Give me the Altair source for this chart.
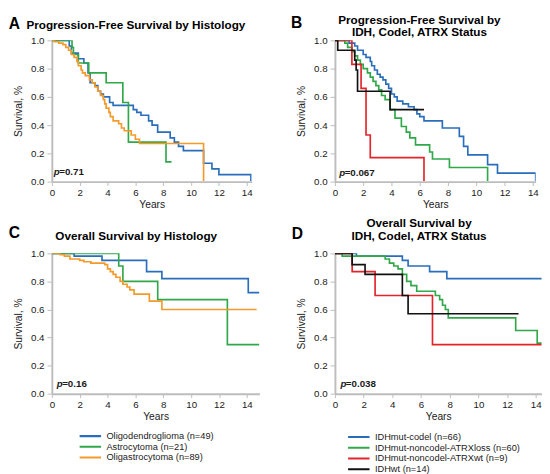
import altair as alt
import pandas as pd

FONT = "Liberation Sans"

# ---------------- data ----------------
hist_names = ["Oligodendroglioma (n=49)", "Astrocytoma (n=21)", "Oligastrocytoma (n=89)"]
hist_colors = ["#2a6ebb", "#30a84a", "#f39a2b"]
mol_names = ["IDHmut-codel (n=66)", "IDHmut-noncodel-ATRXloss (n=60)",
             "IDHmut-noncodel-ATRXwt (n=9)", "IDHwt (n=14)"]
mol_colors = ["#2a6ebb", "#30a84a", "#e3242b", "#111111"]

# Panel A: PFS by histology
A_oligo_t = [0, 1.25, 1.4, 1.9, 2.3, 2.6, 2.75, 3.1, 3.3, 3.5, 3.7, 4.15, 4.4, 5.85, 6.1, 6.4,
             6.95, 7.2, 7.6, 8.5, 8.8, 9.1, 9.45, 10.9, 11.5, 12.0, 14.3]
A_oligo_s = [1.0, 0.96, 0.91, 0.87, 0.84, 0.77, 0.70, 0.68, 0.64, 0.62, 0.60, 0.56, 0.54, 0.51, 0.49,
             0.47, 0.43, 0.40, 0.35, 0.31, 0.28, 0.25, 0.22, 0.13, 0.09, 0.05, 0.005]
A_astro_t = [0, 1.45, 1.55, 1.9, 2.65, 3.9, 5.1, 5.5, 8.2, 8.6]
A_astro_s = [1.0, 0.95, 0.90, 0.84, 0.77, 0.70, 0.56, 0.28, 0.14, 0.14]
A_oliga_t = [0, 0.2, 0.5, 0.8, 1.0, 1.2, 1.4, 1.6, 1.8, 1.9, 2.1, 2.2, 2.4, 2.7, 2.9, 3.1, 3.3, 3.5,
             3.7, 3.8, 3.9, 4.1, 4.2, 4.4, 4.8, 5.0, 5.2, 5.7, 6.0, 6.3, 10.9]
A_oliga_s = [1.0, 0.99, 0.98, 0.97, 0.95, 0.93, 0.90, 0.88, 0.85, 0.82, 0.79, 0.77, 0.75, 0.72, 0.70,
             0.67, 0.64, 0.61, 0.58, 0.55, 0.52, 0.49, 0.46, 0.43, 0.41, 0.38, 0.36, 0.33, 0.30, 0.27, 0.005]

# Panel B: PFS by IDH / codel / ATRX
B_codel_t = [0, 1.0, 1.4, 1.6, 2.0, 2.2, 2.5, 2.6, 2.8, 3.0, 3.2, 3.4, 3.6, 3.8, 4.0, 4.2, 4.4, 4.8,
             5.2, 5.6, 5.8, 6.0, 6.3, 7.6, 8.8, 9.1, 9.4, 10.8, 11.5, 14.2]
B_codel_s = [1.0, 0.98, 0.96, 0.93, 0.90, 0.88, 0.85, 0.82, 0.79, 0.76, 0.74, 0.72, 0.69, 0.66, 0.62,
             0.60, 0.57, 0.55, 0.53, 0.51, 0.48, 0.46, 0.43, 0.38, 0.32, 0.25, 0.19, 0.12, 0.06, 0.005]
B_loss_t = [0, 0.7, 0.9, 1.2, 1.4, 1.6, 1.8, 2.0, 2.3, 2.5, 2.7, 2.9, 3.1, 3.3, 3.55, 3.9, 4.25, 4.7,
            5.05, 5.3, 5.7, 6.7, 6.9, 8.1, 10.8]
B_loss_s = [1.0, 0.98, 0.95, 0.92, 0.89, 0.86, 0.83, 0.80, 0.77, 0.74, 0.71, 0.68, 0.65, 0.61, 0.58,
            0.51, 0.45, 0.39, 0.35, 0.31, 0.26, 0.21, 0.16, 0.10, 0.005]
B_wt_t = [0, 1.2, 1.85, 2.2, 2.5, 6.3]
B_wt_s = [1.0, 0.83, 0.66, 0.33, 0.17, 0.005]
B_idhwt_t = [0, 0.2, 1.4, 1.5, 1.6, 3.9, 6.3]
B_idhwt_s = [1.0, 0.93, 0.86, 0.79, 0.64, 0.51, 0.51]

# Panel C: OS by histology
C_oligo_t = [0, 1.6, 3.6, 6.8, 7.9, 14.1, 14.9]
C_oligo_s = [1.0, 0.98, 0.95, 0.87, 0.82, 0.72, 0.72]
C_astro_t = [0, 4.8, 5.1, 7.6, 12.6, 14.9]
C_astro_s = [1.0, 0.91, 0.80, 0.67, 0.35, 0.35]
C_oliga_t = [0, 0.6, 0.9, 1.3, 2.0, 2.3, 2.8, 3.8, 4.0, 4.2, 4.4, 4.6, 4.9, 5.1, 5.4, 5.6, 5.9, 7.0,
             7.9, 14.7]
C_oliga_s = [1.0, 0.99, 0.98, 0.96, 0.95, 0.94, 0.93, 0.92, 0.89, 0.87, 0.85, 0.83, 0.80, 0.78, 0.76,
             0.74, 0.71, 0.66, 0.60, 0.60]

# Panel D: OS by IDH / codel / ATRX
D_codel_t = [0, 1.5, 4.7, 5.1, 6.6, 7.8, 15]
D_codel_s = [1.0, 0.98, 0.95, 0.91, 0.87, 0.82, 0.82]
D_loss_t = [0, 0.5, 3.5, 3.8, 4.1, 4.4, 4.7, 5.0, 5.3, 5.7, 7.0, 7.3, 7.5, 7.7, 7.9, 12.6, 14.1, 15]
D_loss_s = [1.0, 0.98, 0.96, 0.93, 0.91, 0.89, 0.85, 0.80, 0.77, 0.73, 0.70, 0.67, 0.63, 0.60, 0.54,
            0.45, 0.36, 0.36]
D_wt_t = [0, 1.2, 2.8, 6.8, 15]
D_wt_s = [1.0, 0.87, 0.70, 0.35, 0.35]
D_idhwt_t = [0, 1.2, 2.1, 4.7, 5.1, 12.8]
D_idhwt_s = [1.0, 0.92, 0.85, 0.70, 0.57, 0.57]

p_values = {"A": "=0.71", "B": "=0.067", "C": "=0.16", "D": "=0.038"}
titles = {
    "A": ["Progression-Free Survival by Histology"],
    "B": ["Progression-Free Survival by", "IDH, Codel, ATRX Status"],
    "C": ["Overall Survival by Histology"],
    "D": ["Overall Survival by", "IDH, Codel, ATRX Status"],
}
x_ticks = [0, 2, 4, 6, 8, 10, 12, 14]
y_ticks = [0.0, 0.2, 0.4, 0.6, 0.8, 1.0]


def km_frame(names, series):
    rows = []
    for name, (ts, ss) in zip(names, series):
        for i, (t, s) in enumerate(zip(ts, ss)):
            rows.append({"series": name, "t": t, "s": s, "i": i})
    return pd.DataFrame(rows)


AXIS_GRAY = "#bdbdbd"
TXT = "#1a1a1a"


def panel(letter, names, colors, series, xmax, width, height, title_x, title_ys,
          letter_xy, p_xy, legend_xy=None):
    df = km_frame(names, series)
    xs = alt.Scale(domain=[0, xmax], nice=False, zero=False)
    ys = alt.Scale(domain=[0, 1], nice=False)
    x_axis = alt.Axis(values=x_ticks, format="d", title="Years", grid=False,
                      domainColor=AXIS_GRAY, domainWidth=2, tickColor=AXIS_GRAY,
                      tickWidth=1, tickSize=4, labelPadding=2, labelFontSize=10,
                      labelColor=TXT, titleColor=TXT, titleFontSize=10.5,
                      titleFontWeight="normal", titlePadding=3, labelFont=FONT,
                      titleFont=FONT, labelOverlap=False, labelFlush=False,
                      labelSeparation=0)
    y_axis = alt.Axis(values=y_ticks, format=".1f", title="Survival, %", grid=False,
                      domainColor=AXIS_GRAY, domainWidth=2, tickColor=AXIS_GRAY,
                      tickWidth=1, tickSize=5, labelPadding=3, labelFontSize=10,
                      labelColor=TXT, titleColor=TXT, titleFontSize=10.5,
                      titleFontWeight="normal", titlePadding=7, labelFont=FONT,
                      titleFont=FONT, labelOverlap=False, labelFlush=False,
                      labelSeparation=0)
    if legend_xy is not None:
        leg = alt.Legend(title=None, orient="none", legendX=legend_xy[0], legendY=legend_xy[1],
                         direction="vertical", symbolType="stroke", symbolStrokeWidth=2.2,
                         symbolSize=484, clipHeight=11, rowPadding=0, labelFontSize=9.5,
                         labelFont=FONT, labelColor=TXT, labelOffset=4, padding=0,
                         labelLimit=300)
        color = alt.Color("series:N", scale=alt.Scale(domain=names, range=colors), legend=leg)
    else:
        color = alt.Color("series:N", scale=alt.Scale(domain=names, range=colors), legend=None)

    lines = alt.Chart(df).mark_line(interpolate="step-after", strokeWidth=1.7, clip=True).encode(
        x=alt.X("t:Q", scale=xs, axis=x_axis),
        y=alt.Y("s:Q", scale=ys, axis=y_axis),
        color=color,
        order="i:Q",
        detail="series:N",
    )

    pdf = pd.DataFrame({"t": [p_xy[0]], "s": [p_xy[1]], "p": ["p"], "v": [p_values[letter]]})
    p1 = alt.Chart(pdf).mark_text(align="left", baseline="alphabetic", fontSize=10,
                                  fontWeight="bold", fontStyle="italic", font=FONT,
                                  color=TXT).encode(
        x=alt.X("t:Q", scale=xs, axis=x_axis), y=alt.Y("s:Q", scale=ys, axis=y_axis),
        text="p:N")
    p2 = alt.Chart(pdf).mark_text(align="left", baseline="alphabetic", fontSize=10,
                                  fontWeight="bold", font=FONT, color=TXT, dx=5.6).encode(
        x=alt.X("t:Q", scale=xs, axis=x_axis), y=alt.Y("s:Q", scale=ys, axis=y_axis),
        text="v:N")

    ldf = pd.DataFrame({"letter": [letter]})
    let = alt.Chart(ldf).mark_text(align="left", baseline="alphabetic", fontSize=16,
                                   fontWeight="bold", font=FONT, color="#000").encode(
        x=alt.value(letter_xy[0]), y=alt.value(letter_xy[1]), text="letter:N")

    layers = [lines, p1, p2, let]
    for line_text, ty in zip(titles[letter], title_ys):
        tdf = pd.DataFrame({"title": [line_text]})
        layers.append(
            alt.Chart(tdf).mark_text(align="center", baseline="alphabetic", fontSize=12,
                                     fontWeight="bold", font=FONT, color="#000").encode(
                x=alt.value(title_x), y=alt.value(ty), text="title:N")
        )

    return alt.layer(*layers).properties(width=width, height=height)


pA = panel("A", hist_names, hist_colors,
           [(A_oligo_t, A_oligo_s), (A_astro_t, A_astro_s), (A_oliga_t, A_oliga_s)],
           14.35, 205, 145, 86.2, [-11.4], (-44.3, -12), (0.14, 0.044))
pB = panel("B", mol_names, mol_colors,
           [(B_codel_t, B_codel_s), (B_loss_t, B_loss_s), (B_wt_t, B_wt_s), (B_idhwt_t, B_idhwt_s)],
           14.2, 206, 145, 86.7, [-16.9, -4.7], (-45, -12.4), (0.3, 0.04))
pC = panel("C", hist_names, hist_colors,
           [(C_oligo_t, C_oligo_s), (C_astro_t, C_astro_s), (C_oliga_t, C_oliga_s)],
           14.9, 213, 144, 86.6, [-13.3], (-44.3, -16), (0.35, 0.046), legend_xy=(27, 182))
pD = panel("D", mol_names, mol_colors,
           [(D_codel_t, D_codel_s), (D_loss_t, D_loss_s), (D_wt_t, D_wt_s), (D_idhwt_t, D_idhwt_s)],
           14.4, 212, 144, 86.3, [-26.8, -13.3], (-44.4, -14.3), (0.38, 0.05),
           legend_xy=(12, 183))

chart = alt.concat(
    pA, pB, pC, pD, columns=2, spacing={"row": 73.6, "column": 77.5}, bounds="flush"
).resolve_scale(
    x="independent", y="independent", color="independent"
).properties(
    padding=0,
    background="white",
).configure_view(stroke=None)

chart.save("out.html", embed_options={"renderer": "svg", "actions": False})
